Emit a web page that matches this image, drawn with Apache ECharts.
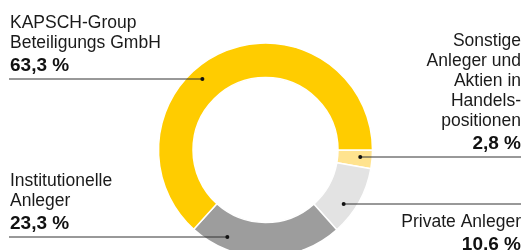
<!DOCTYPE html>
<html>
<head>
<meta charset="utf-8">
<script src="https://cdn.jsdelivr.net/npm/echarts@6/dist/echarts.min.js"></script>
<style>
html,body{margin:0;padding:0;background:#fff;}
#chart{width:526px;height:250px;}
</style>
</head>
<body>
<div id="chart"></div>
<script>
// ---- data ----
const categories = ['Sonstige Anleger und Aktien in Handelspositionen', 'Private Anleger', 'Institutionelle Anleger', 'KAPSCH-Group Beteiligungs GmbH'];
const labelTexts = [
  ['Sonstige', 'Anleger und', 'Aktien in', 'Handels-', 'positionen'],
  ['Private Anleger'],
  ['Institutionelle', 'Anleger'],
  ['KAPSCH-Group', 'Beteiligungs GmbH']
];
const values = [2.8, 10.6, 23.3, 63.3];
const colors = ['#FFE38F', '#E3E3E3', '#9D9D9D', '#FFCC00'];

// ---- layout (not data) ----
const CX = 265.5, CY = 150, R_IN = 72.5, R_OUT = 107, R_DOT = 95;
const lineY = [157, 204, 237, 79];
const side = ['right', 'right', 'left', 'left'];
const textBelow = [false, true, false, false];
const LEFT_X = 9, RIGHT_X = 521;
const FONT = "'Liberation Sans', Arial, Helvetica, sans-serif";

function dotX(i) {
  const dy = lineY[i] - CY;
  const dx = Math.sqrt(R_DOT * R_DOT - dy * dy);
  return side[i] === 'left' ? CX - dx : CX + dx;
}
function fmt(v) { return v.toFixed(1).replace('.', ',') + ' %'; }

const chart = echarts.init(document.getElementById('chart'), null, {renderer: 'canvas'});
const guides = [];
values.forEach((v, i) => {
  const x0 = dotX(i), y = lineY[i];
  const x1 = side[i] === 'left' ? LEFT_X : RIGHT_X;
  guides.push({
    type: 'line', z: 100, silent: true,
    shape: {x1: x0, y1: y, x2: x1, y2: y},
    style: {stroke: '#333', lineWidth: 1}
  });
  guides.push({
    type: 'circle', z: 101, silent: true,
    shape: {cx: x0, cy: y, r: 2},
    style: {fill: '#111'}
  });
});

chart.setOption({
  animation: false,
  backgroundColor: '#fff',
  color: colors,
  series: [{
    type: 'pie',
    center: [CX, CY],
    radius: [R_IN, R_OUT],
    startAngle: 0,
    clockwise: true,
    avoidLabelOverlap: false,
    silent: true,
    itemStyle: {borderColor: '#fff', borderWidth: 1.5},
    data: categories.map((c, i) => ({name: c, value: values[i]})),
    label: {
      show: true,
      position: 'outside',
      fontFamily: FONT,
      color: '#1a1a1a',
      formatter: p => labelTexts[p.dataIndex].map(t => '{a|' + t + '}').join('\n') + '\n{b|' + fmt(p.value) + '}',
      rich: {
        a: {fontFamily: FONT, fontSize: 17.5, lineHeight: 20, color: '#1a1a1a'},
        b: {fontFamily: FONT, fontSize: 19, fontWeight: 'bold', lineHeight: 25, color: '#111'}
      }
    },
    labelLine: {show: false},
    labelLayout: function (params) {
      const i = params.dataIndex;
      const y = lineY[i];
      if (side[i] === 'left') {
        return {x: LEFT_X + 1, y: y - 1, align: 'left', verticalAlign: 'bottom'};
      }
      return {
        x: RIGHT_X, y: textBelow[i] ? y + 8 : y - 1,
        align: 'right', verticalAlign: textBelow[i] ? 'top' : 'bottom'
      };
    }
  }],
  graphic: guides
});
</script>
</body>
</html>
